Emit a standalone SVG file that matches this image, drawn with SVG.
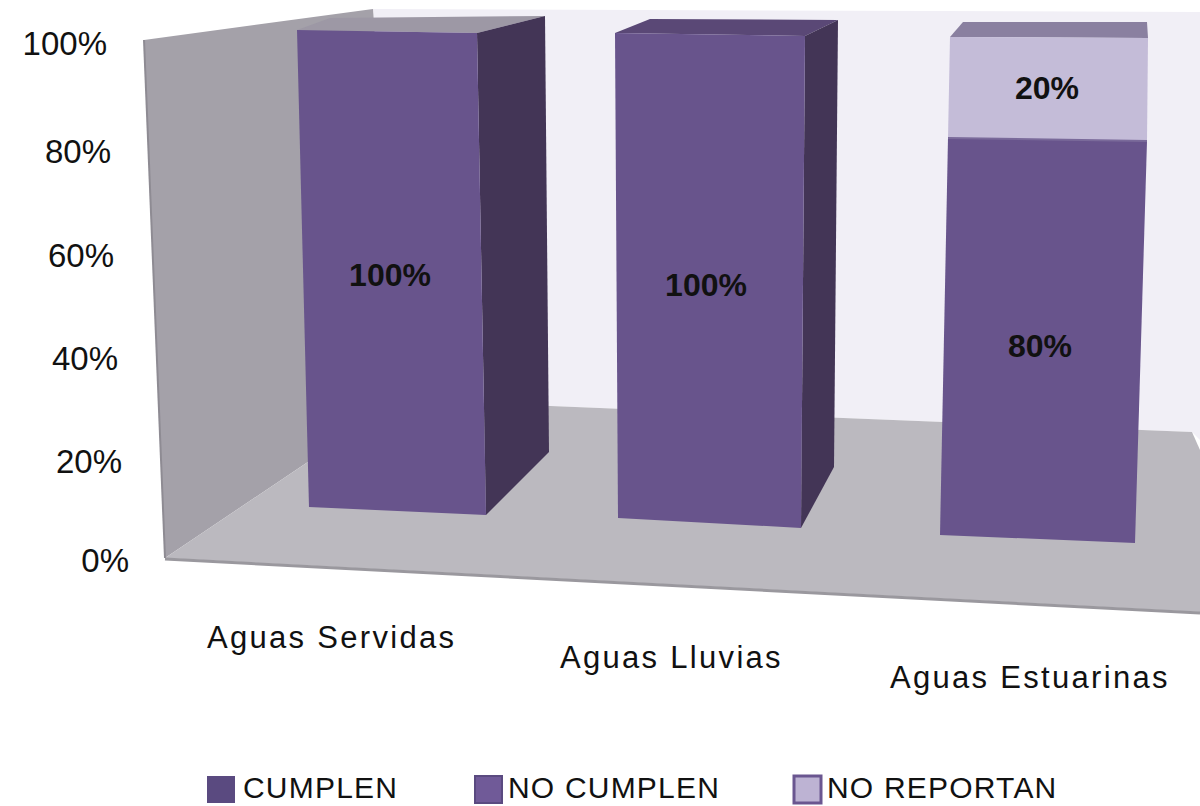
<svg xmlns="http://www.w3.org/2000/svg" width="1200" height="806" viewBox="0 0 1200 806">
<style>
.ax{font-family:"Liberation Sans",Arial,sans-serif;font-size:33px;fill:#111;text-anchor:end}
.val{font-family:"Liberation Sans",Arial,sans-serif;font-size:32px;font-weight:bold;fill:#111;text-anchor:middle}
.cat{font-family:"Liberation Sans",Arial,sans-serif;font-size:31px;fill:#111;letter-spacing:2.3px}
.leg{font-family:"Liberation Sans",Arial,sans-serif;font-size:30px;fill:#111;letter-spacing:1.2px}
.front{fill:#68548c}
.side{fill:#433556}
</style>
<rect width="1200" height="806" fill="#ffffff"/>
<g id="chart-walls">
<polygon points="373,9 1200,12 1200,440 1192,432 400,400" fill="#f1eff6"/>
<polygon points="144,40 373,9 400,400 165,558" fill="#a4a1a9"/>
<polygon points="165,558 400,400 1192,432 1200,450 1200,612" fill="#bbb9bf"/>
<polyline points="165,559 1200,613" fill="none" stroke="#9a989e" stroke-width="3"/>
<line x1="144" y1="40" x2="165" y2="558" stroke="#8e8b93" stroke-width="2"/>
</g>
<g id="axis-labels">
<text class="ax" x="107" y="55">100%</text>
<text class="ax" x="111" y="163">80%</text>
<text class="ax" x="114" y="267">60%</text>
<text class="ax" x="118" y="370">40%</text>
<text class="ax" x="122" y="473">20%</text>
<text class="ax" x="129" y="572">0%</text>
</g>
<g id="bar-aguas-servidas">
<polygon points="297,30 330,18 545,16 477,33" fill="#9d98a5"/>
<polygon class="side" points="477,33 545,16 549,452 486,515"/>
<polygon class="front" points="297,30 477,33 486,515 309,507"/>
<text class="val" x="390" y="286">100%</text>
</g>
<g id="bar-aguas-lluvias">
<polygon points="615,33 650,19 838,20 805,36" fill="#5a4876"/>
<polygon class="side" points="805,36 838,20 834,467 801,528"/>
<polygon class="front" points="615,33 805,36 801,528 618,518"/>
<text class="val" x="706" y="296">100%</text>
</g>
<g id="bar-aguas-estuarinas">
<polygon points="950,37 963,22 1147,22 1148,38" fill="#8a80a0"/>
<polygon points="950,37 1148,38 1147,141 948,138" fill="#c4bcd8"/>
<polygon class="front" points="948,138 1147,141 1135,543 940,535"/>
<line x1="948" y1="138" x2="1147" y2="141" stroke="#7a6a9a" stroke-width="2"/>
<text class="val" x="1047" y="99">20%</text>
<text class="val" x="1040" y="357">80%</text>
</g>
<g id="category-labels">
<text class="cat" x="207" y="648">Aguas Servidas</text>
<text class="cat" x="560" y="668">Aguas Lluvias</text>
<text class="cat" x="890" y="688">Aguas Estuarinas</text>
</g>
<g id="legend">
<rect x="207" y="776" width="28" height="27" fill="#5a4a80"/>
<text class="leg" x="243" y="798">CUMPLEN</text>
<rect x="475" y="776" width="27" height="27" fill="#705a98" stroke="#5a4a80" stroke-width="2"/>
<text class="leg" x="508" y="798">NO CUMPLEN</text>
<rect x="794" y="776" width="27" height="27" fill="#bdb3d3" stroke="#6a5690" stroke-width="3"/>
<text class="leg" x="827" y="798">NO REPORTAN</text>
</g>
</svg>
